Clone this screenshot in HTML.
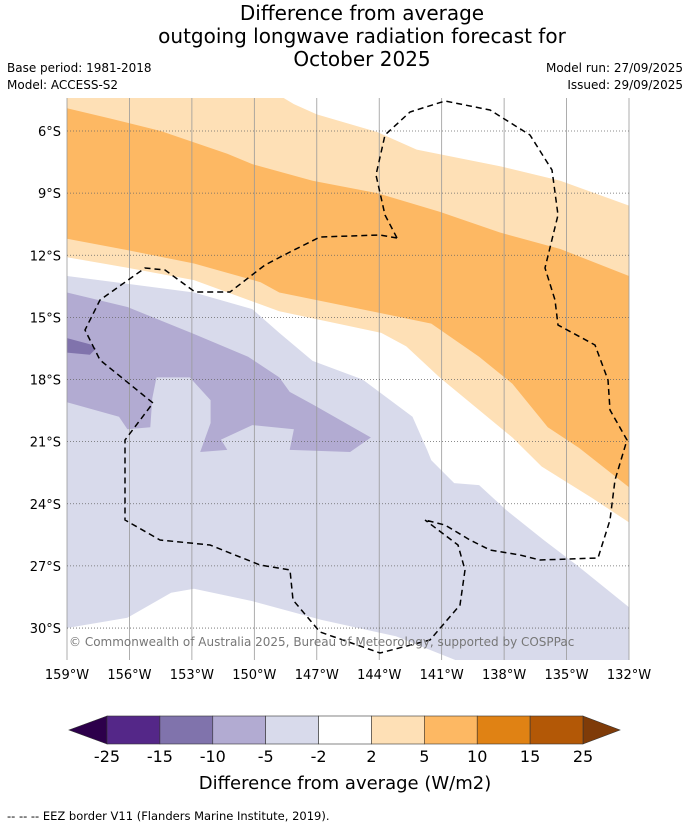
<!DOCTYPE html>
<html><head><meta charset="utf-8">
<style>
body{margin:0;background:#fff;font-family:"DejaVu Sans","Liberation Sans",sans-serif;}
svg text{font-family:"DejaVu Sans","Liberation Sans",sans-serif;}
</style></head>
<body>
<svg id="chart" width="690" height="827" viewBox="0 0 690 827" xmlns="http://www.w3.org/2000/svg">
<text x="362" y="20" font-size="20" text-anchor="middle">Difference from average</text>
<text x="362" y="43" font-size="20" text-anchor="middle">outgoing longwave radiation forecast for</text>
<text x="362" y="66" font-size="20" text-anchor="middle">October 2025</text>
<text x="7" y="72" font-size="12">Base period: 1981-2018</text>
<text x="7" y="89" font-size="12">Model: ACCESS-S2</text>
<text x="683" y="72" font-size="12" text-anchor="end">Model run: 27/09/2025</text>
<text x="683" y="89" font-size="12" text-anchor="end">Issued: 29/09/2025</text>
<g id="map"></g>
<g id="cbar"></g>
<text x="345" y="789" font-size="18" text-anchor="middle">Difference from average (W/m2)</text>
<text x="7" y="820" font-size="11.5">--  --  -- EEZ border V11 (Flanders Marine Institute, 2019).</text>
</svg>
<script>
const lonTicks=[159,156,153,150,147,144,141,138,135,132];
const latTicks=[6,9,12,15,18,21,24,27,30];
const cbLevels=[-25,-15,-10,-5,-2,2,5,10,15,25];
const cbColors=['#542788','#8073ac','#b2abd2','#d8daeb','#ffffff','#fee0b6','#fdb863','#e08214','#b35806'];
// contour polygons [lonW, latS]
const lightOrange=[[159,4.4],[148.6,4.4],[148.1,4.7],[147.0,5.2],[144.1,6.05],[142.2,6.9],[138.2,7.7],[135.3,8.4],[132,9.6],[132,24.9],[133.8,23.7],[136.2,22.2],[137.6,20.8],[141.1,17.9],[142.7,16.4],[143.9,15.75],[148.8,14.7],[152.9,13.2],[156.1,12.6],[159,12.1]];
const orange=[[159,4.9],[156.9,5.4],[154.5,6.0],[151.3,7.1],[150.1,7.6],[147.2,8.4],[144.1,9.0],[141.1,9.9],[138.2,10.9],[135.3,11.7],[132,13.0],[132,23.2],[134.4,21.3],[135.9,20.3],[137.6,18.2],[139.2,16.9],[141.5,15.3],[143.9,14.8],[148.8,13.8],[149.7,13.3],[152.9,12.4],[156.1,11.75],[159,11.2]];
const lightPurple=[[159,13.0],[152.9,13.8],[150.1,14.6],[148.8,15.75],[147.2,17.1],[144.8,18.0],[142.4,19.8],[141.7,21.4],[141.5,21.9],[140.4,23.0],[139.2,23.1],[137.9,24.3],[136.1,25.75],[134.4,27.05],[132,29.0],[132,31.6],[140.2,31.6],[143.2,30.4],[146.8,29.6],[150.1,28.7],[152.9,28.1],[154.0,28.3],[156.1,29.5],[159,30.0]];
const purple=[[159,13.8],[156.1,14.5],[152.9,15.8],[150.3,16.9],[148.8,17.9],[148.3,18.6],[147.2,19.2],[144.4,20.8],[145.4,21.5],[148.3,21.4],[148.1,20.4],[150.1,20.2],[151.6,20.9],[151.3,21.4],[152.6,21.5],[152.1,20.1],[152.1,19.0],[153.1,17.9],[154.7,17.9],[154.9,18.9],[155.0,20.3],[156.1,20.4],[156.5,19.8],[159,19.1]];
const darkPurple=[[159,16.0],[157.9,16.3],[157.6,16.5],[157.9,16.8],[159,16.7]];
const X=lon=>67+(159-lon)*20.815;
const Y=lat=>131+(lat-6)*20.71;
const NS='http://www.w3.org/2000/svg';
const map=document.getElementById('map');
function mk(tag,attrs,parent){const e=document.createElementNS(NS,tag);for(const k in attrs)e.setAttribute(k,attrs[k]);(parent||map).appendChild(e);return e;}
const cp=mk('clipPath',{id:'mc'});mk('rect',{x:67,y:98,width:562,height:562},cp);
const g=mk('g',{'clip-path':'url(#mc)'});
const bg=mk('rect',{x:67,y:98,width:562,height:562,fill:'#fff'},g);


function polyG(pts,fill,name){const p=document.createElementNS(NS,'polygon');p.setAttribute('points',pts.map(q=>X(q[0]).toFixed(1)+','+Y(q[1]).toFixed(1)).join(' '));p.setAttribute('fill',fill);


g.appendChild(p);}
polyG(lightOrange,cbColors[5],'contour-2-5');
polyG(orange,cbColors[6],'contour-5-10');
polyG(lightPurple,cbColors[3],'contour-minus5-minus2');
polyG(purple,cbColors[2],'contour-minus10-minus5');
polyG(darkPurple,cbColors[1],'contour-minus15-minus10');
// gridlines
lonTicks.forEach(l=>{const ln=mk('line',{x1:X(l),x2:X(l),y1:98,y2:660,stroke:'#999','stroke-width':0.8});


const t=mk('text',{x:X(l),y:679,'font-size':13,'text-anchor':'middle'});t.textContent=l+'°W';

});
latTicks.forEach(l=>{const ln=mk('line',{x1:67,x2:629,y1:Y(l),y2:Y(l),stroke:'#666','stroke-width':0.8,'stroke-dasharray':'1,2'});


const t=mk('text',{x:61,y:Y(l)+5,'font-size':13,'text-anchor':'end'});t.textContent=l+'°S';

});
// EEZ borders
const eez=mk('path',{d:'M397,238 L385,215 L376,175 L385,135 L410,112 L445,101 L490,110 L530,135 L552,170 L558,215 L545,268 L555,300 L558,325 L595,345 L608,380 L610,410 L627,440 L615,480 L610,520 L598,558 L540,560 L520,555 L490,550 L470,540 L445,525 L425,520 M397,238 L380,235 L320,237 L290,252 L265,265 L230,292 L195,292 L165,270 L145,268 L100,300 L85,330 L100,360 L153,403 L125,440 L125,520 L160,540 L210,545 L260,565 L290,570 L293,600 L320,632 L380,653 L430,640 L460,605 L465,570 L458,545 L425,520',fill:'none',stroke:'#000','stroke-width':1.5,'stroke-dasharray':'6,4'});


const cr=mk('text',{x:69,y:646,'font-size':12,fill:'#777'});cr.textContent='© Commonwealth of Australia 2025, Bureau of Meteorology, supported by COSPPac';


// colorbar
const cb=document.getElementById('cbar');
const x0=107,x1=583,cy=716,ch=28,bw=(x1-x0)/cbColors.length;
const lt=mk('polygon',{points:`${x0},${cy} ${x0},${cy+ch} 69,${cy+ch/2}`,fill:'#2d004b',stroke:'#333','stroke-width':0.6},cb);


const rt=mk('polygon',{points:`${x1},${cy} ${x1},${cy+ch} 620,${cy+ch/2}`,fill:'#7f3b08',stroke:'#333','stroke-width':0.6},cb);


cbColors.forEach((c,i)=>{const r=mk('rect',{x:x0+i*bw,y:cy,width:bw,height:ch,fill:c,stroke:'#333','stroke-width':0.6},cb);

});
cbLevels.forEach((v,i)=>{const t=mk('text',{x:x0+i*bw,y:762,'font-size':16,'text-anchor':'middle'},cb);t.textContent=v;

});
</script>
</body></html>
